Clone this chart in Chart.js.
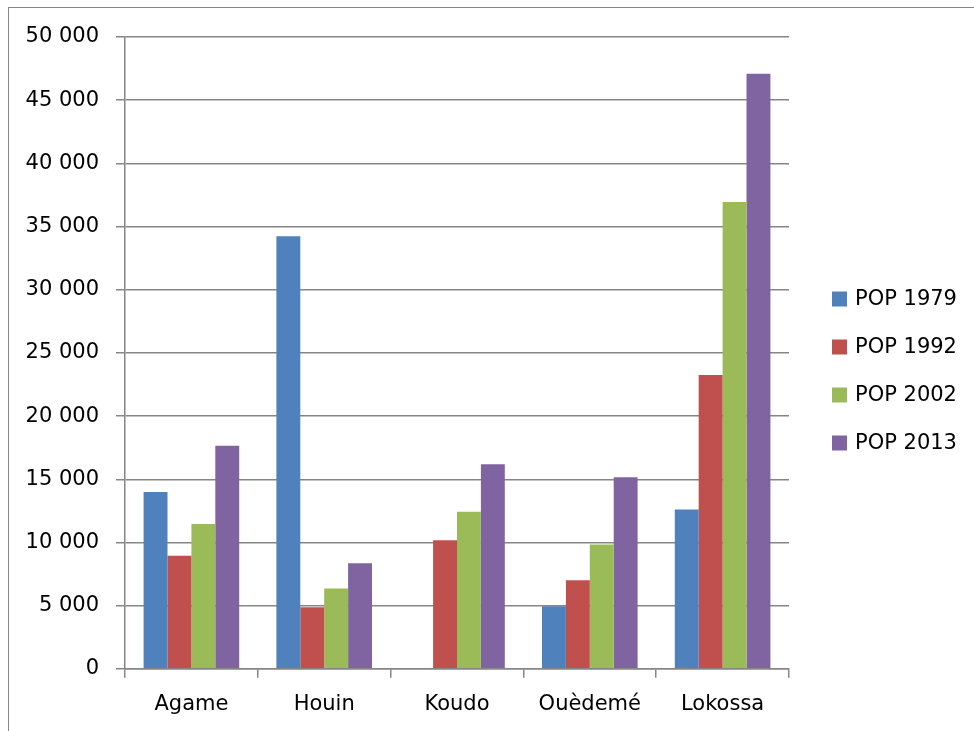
<!DOCTYPE html>
<html>
<head>
<meta charset="utf-8">
<script src="https://cdn.jsdelivr.net/npm/chart.js@4/dist/chart.umd.min.js"></script>
<style>
  html, body { margin: 0; padding: 0; background: #fff; }
  #frame {
    position: absolute; left: 8px; top: 7px;
    width: 1000px; height: 760px;
    border: 1px solid #868686;
  }
  #wrap { position: absolute; left: 0; top: 0; width: 974px; height: 731px; }
</style>
</head>
<body>
<div id="frame"></div>
<div id="wrap"><canvas id="chartPop"></canvas></div>
<script>
/* ── data ─────────────────────────────────────────────────────────────── */

const communes = ['Agame', 'Houin', 'Koudo', 'Ouèdemé', 'Lokossa'];

const pop1979 = [14000, 34230, 0, 4950, 12600];
const pop1992 = [8940, 4870, 10170, 7000, 23250];
const pop2002 = [11450, 6350, 12420, 9830, 36950];
const pop2013 = [17650, 8350, 16190, 15160, 47100];

const yMax  = 50000;
const yStep = 5000;

/* ── style ────────────────────────────────────────────────────────────── */

const FONT   = "'DejaVu Sans', sans-serif";
const AXIS_C = '#868686';

const fmtThousands = v => v === 0 ? '0' : String(v).replace(/\B(?=(\d{3})+(?!\d))/g, ' ');

function series(label, data, color) {
  return {
    label,
    data,
    backgroundColor: color,
    borderWidth: 0,
    barPercentage: 1.0,
    categoryPercentage: 0.72,
  };
}

/* legend drawn at the right, Excel style (square + label, wide spacing) */
const sideLegend = {
  id: 'sideLegend',
  afterDraw(chart) {
    const { ctx } = chart;
    const x0 = chart.chartArea.right + 43;
    const y0 = 299;
    const rowH = 48;
    ctx.save();
    ctx.font = '21px ' + FONT;
    ctx.textBaseline = 'middle';
    ctx.fillStyle = '#000';
    chart.data.datasets.forEach((ds, i) => {
      const y = y0 + i * rowH;
      ctx.fillStyle = ds.backgroundColor;
      ctx.fillRect(x0, y - 7.5, 15, 15);
      ctx.fillStyle = '#000';
      ctx.fillText(ds.label, x0 + 23, y + 1);
    });
    ctx.restore();
  },
};

new Chart(document.getElementById('chartPop'), {
  type: 'bar',
  data: {
    labels: communes,
    datasets: [
      series('POP 1979', pop1979, '#4F81BD'),
      series('POP 1992', pop1992, '#C0504D'),
      series('POP 2002', pop2002, '#9BBB59'),
      series('POP 2013', pop2013, '#8064A2'),
    ],
  },
  plugins: [sideLegend],
  options: {
    responsive: true,
    maintainAspectRatio: false,
    animation: false,
    layout: { padding: { left: 10, top: 37, right: 185, bottom: 0 } },
    plugins: {
      tooltip: { enabled: false },
      legend: { display: false },
    },
    scales: {
      x: {
        grid: {
          offset: true,
          drawOnChartArea: false,
          drawTicks: true,
          tickLength: 9,
          color: AXIS_C,
          lineWidth: 1.5,
        },
        border: { color: AXIS_C, width: 1.5 },
        ticks: {
          color: '#000',
          font: { family: FONT, size: 21 },
          padding: 14,
          maxRotation: 0,
        },
      },
      y: {
        min: 0,
        max: yMax,
        afterFit: s => { s.width = 115; },
        grid: {
          color: AXIS_C,
          lineWidth: 1.5,
          drawTicks: true,
          tickLength: 9,
        },
        border: { color: AXIS_C, width: 1.5 },
        ticks: {
          stepSize: yStep,
          color: '#000',
          font: { family: FONT, size: 21 },
          padding: 17,
          callback: v => fmtThousands(v),
        },
      },
    },
  },
});
</script>
</body>
</html>
